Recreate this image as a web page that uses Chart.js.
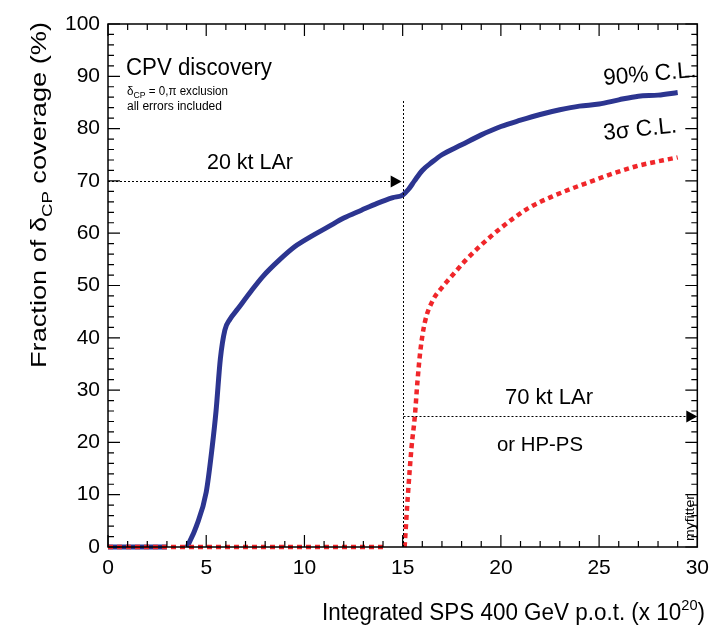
<!DOCTYPE html>
<html>
<head>
<meta charset="utf-8">
<script src="https://cdn.jsdelivr.net/npm/chart.js@4"></script>
<style>
  html, body { margin: 0; padding: 0; background: #fff; }
  #wrap { width: 718px; height: 625px; position: relative; }
</style>
</head>
<body>
<div id="wrap"><canvas id="coverageChart" width="718" height="625"></canvas></div>
<script>
// values
var sigma90X = [0, 1, 2, 3, 3.5, 4.03, 4.5, 5.0, 5.3, 5.5, 5.72, 5.95, 6.2, 6.6, 7.3, 7.9, 8.7, 9.5, 10.3, 11.2, 12.0, 12.9, 13.7, 14.5, 15.0, 15.3, 15.6, 16.0, 16.5, 17.0, 18.0, 19.0, 20.0, 21.0, 22.0, 23.0, 24.0, 25.0, 26.0, 27.0, 28.0, 29.0];
var sigma90Y = [0, 0, 0, 0, null, 0, 4, 10.5, 19, 26, 36, 41.5, 43.5, 45.5, 49, 51.8, 54.8, 57.4, 59.3, 61.2, 62.9, 64.4, 65.7, 66.8, 67.3, 68.4, 70.0, 72.0, 73.6, 75.0, 76.9, 78.8, 80.4, 81.6, 82.7, 83.6, 84.3, 84.7, 85.5, 86.2, 86.4, 86.9];
var sigma3X = [0, 2, 4, 6, 8, 10, 12, 14, 14.5, 15.1, 15.25, 15.45, 15.62, 15.75, 15.9, 16.12, 16.54, 17.0, 17.5, 18.2, 18.9, 20.0, 21.4, 22.6, 24.3, 26.8, 29.0];
var sigma3Y = [0, 0, 0, 0, 0, 0, 0, 0, null, 0, 9, 19, 25, 31.5, 37.5, 42.8, 47.2, 49.6, 51.8, 54.8, 57.4, 61.0, 64.8, 67.0, 69.5, 72.7, 74.5];
var xTicks = [0, 5, 10, 15, 20, 25, 30];
var yTicks = [0, 10, 20, 30, 40, 50, 60, 70, 80, 90, 100];

// annotation anchors (data units)
var stageX = 15;
var stageLineTop = 85.5;
var arrow20Y = 70;
var arrow70Y = 25;

var blueColor = '#2c3590';
var redColor = '#f0262a';
var fontFamily = '"Liberation Sans", Arial, Helvetica, sans-serif';

function toPoints(xs, ys) {
  return xs.map(function (x, i) { return { x: x, y: ys[i] }; });
}

// draws runs of text [{t, size, dy}] starting at 0,0 in current transform
function drawRuns(ctx, runs, fitWidth) {
  var total = 0;
  runs.forEach(function (r) {
    ctx.font = r.size + 'px ' + fontFamily;
    r.w = ctx.measureText(r.t).width;
    total += r.w;
  });
  var sx = fitWidth ? fitWidth / total : 1;
  ctx.save();
  ctx.scale(sx, 1);
  var x = 0;
  runs.forEach(function (r) {
    ctx.font = r.size + 'px ' + fontFamily;
    ctx.fillText(r.t, x, r.dy || 0);
    x += r.w;
  });
  ctx.restore();
}

function arrowHead(ctx, tipX, y, len, half) {
  ctx.beginPath();
  ctx.moveTo(tipX, y);
  ctx.lineTo(tipX - len, y - half);
  ctx.lineTo(tipX - len, y + half);
  ctx.closePath();
  ctx.fill();
}

var decorPlugin = {
  id: 'decor',
  afterDraw: function (chart) {
    var ctx = chart.ctx;
    var area = chart.chartArea;
    var xs = chart.scales.x;
    var ys = chart.scales.y;
    ctx.save();
    ctx.fillStyle = '#000';
    ctx.strokeStyle = '#000';
    ctx.textBaseline = 'alphabetic';
    ctx.textAlign = 'left';

    // frame
    ctx.lineWidth = 1.5;
    ctx.strokeRect(area.left, area.top, area.right - area.left, area.bottom - area.top);

    // inward ticks on every side
    ctx.lineWidth = 1.2;
    ctx.beginPath();
    var xv, yv, px, py, len;
    for (xv = 0; xv <= 30; xv += 1) {
      px = xs.getPixelForValue(xv);
      len = (xv % 5 === 0) ? 12 : 6;
      ctx.moveTo(px, area.bottom);
      ctx.lineTo(px, area.bottom - len);
      ctx.moveTo(px, area.top);
      ctx.lineTo(px, area.top + len);
    }
    for (yv = 0; yv <= 100; yv += 2) {
      py = ys.getPixelForValue(yv);
      len = (yv % 10 === 0) ? 12 : 6;
      ctx.moveTo(area.left, py);
      ctx.lineTo(area.left + len, py);
      ctx.moveTo(area.right, py);
      ctx.lineTo(area.right - len, py);
    }
    ctx.stroke();

    // dotted guide lines
    ctx.lineWidth = 1;
    ctx.setLineDash([2, 2]);
    var sx = Math.round(xs.getPixelForValue(stageX)) + 0.5;
    var y20 = Math.round(ys.getPixelForValue(arrow20Y)) + 0.5;
    var y70 = Math.round(ys.getPixelForValue(arrow70Y)) + 0.5;
    ctx.beginPath();
    ctx.moveTo(sx, ys.getPixelForValue(0));
    ctx.lineTo(sx, ys.getPixelForValue(stageLineTop));
    ctx.moveTo(xs.getPixelForValue(0), y20);
    ctx.lineTo(xs.getPixelForValue(14.5), y20);
    ctx.moveTo(sx, y70);
    ctx.lineTo(xs.getPixelForValue(29.5), y70);
    ctx.stroke();
    ctx.setLineDash([]);
    arrowHead(ctx, xs.getPixelForValue(14.95), y20, 11, 6);
    arrowHead(ctx, xs.getPixelForValue(30), y70, 11, 6);

    // labels inside the frame
    ctx.save(); ctx.translate(126, 75);
    drawRuns(ctx, [{ t: 'CPV discovery', size: 23 }], 146);
    ctx.restore();
    ctx.save(); ctx.translate(127, 95);
    drawRuns(ctx, [{ t: 'δ', size: 12 }, { t: 'CP', size: 9, dy: 3 }, { t: ' = 0,π exclusion', size: 12 }], 101);
    ctx.restore();
    ctx.save(); ctx.translate(127, 110);
    drawRuns(ctx, [{ t: 'all errors included', size: 12 }], 95);
    ctx.restore();

    ctx.save(); ctx.translate(207, 169);
    drawRuns(ctx, [{ t: '20 kt LAr', size: 22 }], 86);
    ctx.restore();
    ctx.save(); ctx.translate(505, 404);
    drawRuns(ctx, [{ t: '70 kt LAr', size: 22 }], 88);
    ctx.restore();
    ctx.save(); ctx.translate(497, 451);
    drawRuns(ctx, [{ t: 'or HP-PS', size: 21 }], 86);
    ctx.restore();

    ctx.save(); ctx.translate(604, 85); ctx.rotate(-5 * Math.PI / 180);
    drawRuns(ctx, [{ t: '90% C.L.', size: 23 }], 93);
    ctx.restore();
    ctx.save(); ctx.translate(604, 140); ctx.rotate(-6 * Math.PI / 180);
    drawRuns(ctx, [{ t: '3σ C.L.', size: 23 }], 74);
    ctx.restore();

    ctx.save(); ctx.translate(694, 541); ctx.rotate(-Math.PI / 2);
    drawRuns(ctx, [{ t: 'myfitter', size: 13 }], 46);
    ctx.restore();

    // axis titles
    ctx.save(); ctx.translate(46, 368); ctx.rotate(-Math.PI / 2);
    drawRuns(ctx, [{ t: 'Fraction of δ', size: 22 }, { t: 'CP', size: 15, dy: 6 }, { t: ' coverage (%)', size: 22 }], 346);
    ctx.restore();
    ctx.save(); ctx.translate(322, 620);
    drawRuns(ctx, [{ t: 'Integrated SPS 400 GeV p.o.t. (x 10', size: 23 }, { t: '20', size: 15, dy: -10 }, { t: ')', size: 23 }], 383);
    ctx.restore();

    ctx.restore();
  }
};

var ctx = document.getElementById('coverageChart').getContext('2d');
var coverageChart = new Chart(ctx, {
  type: 'line',
  data: {
    datasets: [
      {
        label: '3σ C.L.',
        data: toPoints(sigma3X, sigma3Y),
        borderColor: redColor,
        borderWidth: 4.5,
        borderDash: [5, 4],
        borderCapStyle: 'butt',
        pointRadius: 0,
        cubicInterpolationMode: 'monotone',
        spanGaps: false,
        clip: false,
        order: 0
      },
      {
        label: '90% C.L.',
        data: toPoints(sigma90X, sigma90Y),
        borderColor: blueColor,
        borderWidth: 5,
        pointRadius: 0,
        cubicInterpolationMode: 'monotone',
        spanGaps: false,
        clip: false,
        order: 1
      }
    ]
  },
  options: {
    responsive: false,
    animation: false,
    layout: { padding: { left: 0, right: 14, top: 24, bottom: 0 } },
    plugins: {
      legend: { display: false },
      tooltip: { enabled: false }
    },
    scales: {
      x: {
        type: 'linear',
        min: 0,
        max: 30,
        afterFit: function (scale) { scale.height = 78; },
        afterBuildTicks: function (scale) { scale.ticks = xTicks.map(function (v) { return { value: v }; }); },
        grid: { display: false, drawTicks: false },
        border: { display: false },
        ticks: {
          color: '#000',
          padding: 9,
          maxRotation: 0,
          font: { family: fontFamily, size: 21 }
        }
      },
      y: {
        type: 'linear',
        min: 0,
        max: 100,
        afterFit: function (scale) { scale.width = 108; },
        afterBuildTicks: function (scale) { scale.ticks = yTicks.map(function (v) { return { value: v }; }); },
        grid: { display: false, drawTicks: false },
        border: { display: false },
        ticks: {
          color: '#000',
          padding: 8,
          font: { family: fontFamily, size: 21 }
        }
      }
    }
  },
  plugins: [decorPlugin]
});
</script>
</body>
</html>
